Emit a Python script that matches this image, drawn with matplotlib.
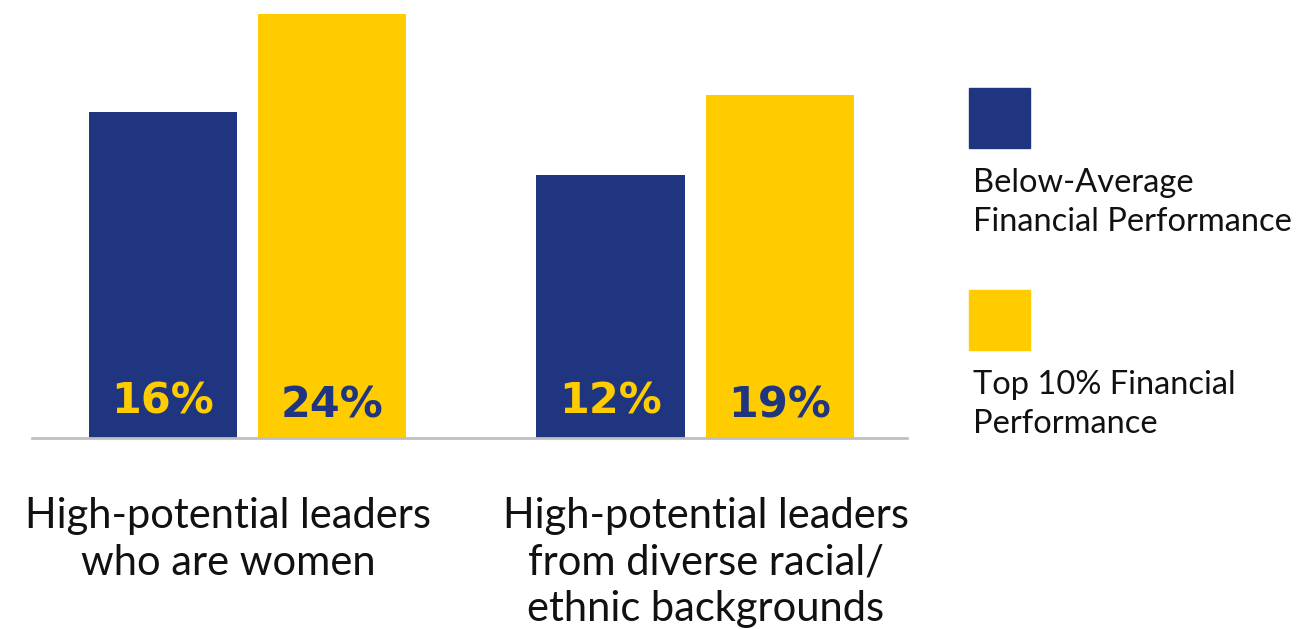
import numpy as np
import matplotlib
matplotlib.use("Agg")
from matplotlib import pyplot as plt
from matplotlib.patches import Rectangle

# data
groups = ["High-potential leaders\nwho are women",
          "High-potential leaders\nfrom diverse racial/\nethnic backgrounds"]
series = ["Below-Average\nFinancial Performance", "Top 10% Financial\nPerformance"]
below_avg = [16, 12]          # printed values (%)
top10 = [24, 19]
# drawn bar heights (the picture is not drawn to scale)
below_avg_h = [16.3, 13.15]
top10_h = [21.2, 17.15]

navy = "#1f3580"
yellow = "#ffcc00"

W, H = 1316, 629
fig = plt.figure(figsize=(W / 100, H / 100), dpi=100)

# axes placed in pixels: x 32..907, y 0..438
ax = fig.add_axes([32 / W, (H - 438) / H, 875 / W, 438 / H])
x = np.arange(len(groups))
bw = 0.331
off = 0.189
b1 = ax.bar(x - off, below_avg_h, bw, color=navy)
b2 = ax.bar(x + off, top10_h, bw, color=yellow)
ax.set_xlim(-0.4816, 1.4737)
ax.set_ylim(0, 21.9)
for s in ["top", "right", "left"]:
    ax.spines[s].set_visible(False)
ax.spines["bottom"].set_color("#c0c0c0")
ax.spines["bottom"].set_linewidth(2)
ax.set_xticks([])
ax.set_yticks([])

for xi, v in zip(x - off, below_avg):
    ax.text(xi, 1.85, f"{v}%", ha="center", va="center", color=yellow,
            fontsize=31, fontweight="bold", family="DejaVu Sans")
for xi, v in zip(x + off, top10):
    ax.text(xi, 1.65, f"{v}%", ha="center", va="center", color=navy,
            fontsize=31, fontweight="bold", family="DejaVu Sans")

# category labels under the axis
label_x = [228, 706]
for lx, g in zip(label_x, groups):
    fig.text(lx / W, 1 - 497 / H, g, ha="center", va="top", fontsize=30,
             family="Lato", linespacing=1.28, color="#111111")

# legend drawn by hand
legend_y = [88, 290]
for ly, s, c in zip(legend_y, series, [navy, yellow]):
    fig.patches.append(Rectangle((969 / W, 1 - (ly + 60) / H), 61 / W, 60 / H,
                                 transform=fig.transFigure, color=c))
    fig.text(973 / W, 1 - (ly + 80) / H, s, ha="left", va="top", fontsize=23.5,
             family="Lato", linespacing=1.36, color="#111111")

fig.savefig("out.png", dpi=100)
